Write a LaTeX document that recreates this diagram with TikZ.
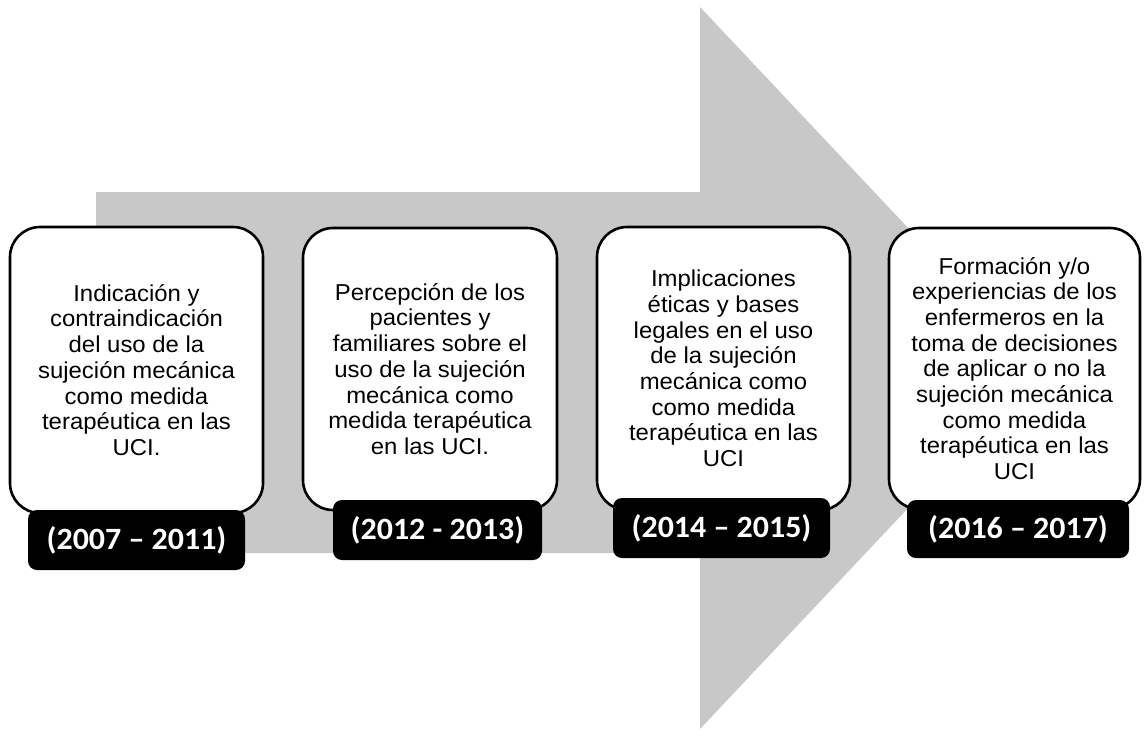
\documentclass[tikz,border=0pt]{standalone}
\usepackage{fontspec}
\newfontfamily\boxfont[FakeStretch=1.04]{Liberation Sans}
\newfontfamily\labfont[FakeStretch=1.03]{Carlito}
\definecolor{arrowgray}{RGB}{200,200,200}
\begin{document}
\begin{tikzpicture}[x=1pt,y=-1pt,
  textbox/.style={draw=black, line width=2.6pt, fill=white, rounded corners=30pt,
    align=center, inner sep=0pt, font=\boxfont\fontsize{23}{25.7}\selectfont},
  yearlab/.style={fill=black, text=white, rounded corners=9pt, inner sep=0pt,
    font=\labfont\bfseries\fontsize{31}{32}\selectfont}]
\useasboundingbox (0,0) rectangle (1147,729);
\fill[arrowgray] (96,192) -- (700,192) -- (700,7) -- (1040,368) -- (700,729) -- (700,553) -- (96,553) -- cycle;

\node[textbox, minimum width=253pt, minimum height=286pt] (b1) at (136.5,370)
 {Indicación y\\contraindicación\\del uso de la\\sujeción mecánica\\como medida\\terapéutica en las\\UCI.};
\node[textbox, minimum width=254pt, minimum height=282pt] (b2) at (430,369)
 {Percepción de los\\pacientes y\\familiares sobre el\\uso de la sujeción\\mecánica como\\medida terapéutica\\en las UCI.};
\node[textbox, minimum width=253pt, minimum height=283pt] (b3) at (723.5,368.5)
 {Implicaciones\\éticas y bases\\legales en el uso\\de la sujeción\\mecánica como\\como medida\\terapéutica en las\\UCI};
\node[textbox, minimum width=251pt, minimum height=281pt] (b4) at (1014.5,368.5)
 {Formación y/o\\experiencias de los\\enfermeros en la\\toma de decisiones\\de aplicar o no la\\sujeción mecánica\\como medida\\terapéutica en las\\UCI};

\node[yearlab, minimum width=217pt, minimum height=60pt] (y1) at (136.5,540) {(2007 – 2011)};
\node[yearlab, minimum width=209pt, minimum height=60pt] (y2) at (437.5,530) {(2012 - 2013)};
\node[yearlab, minimum width=217pt, minimum height=60pt] (y3) at (721.5,528) {(2014 – 2015)};
\node[yearlab, minimum width=222pt, minimum height=58pt] (y4) at (1018,529) {(2016 – 2017)};
\end{tikzpicture}
\end{document}
